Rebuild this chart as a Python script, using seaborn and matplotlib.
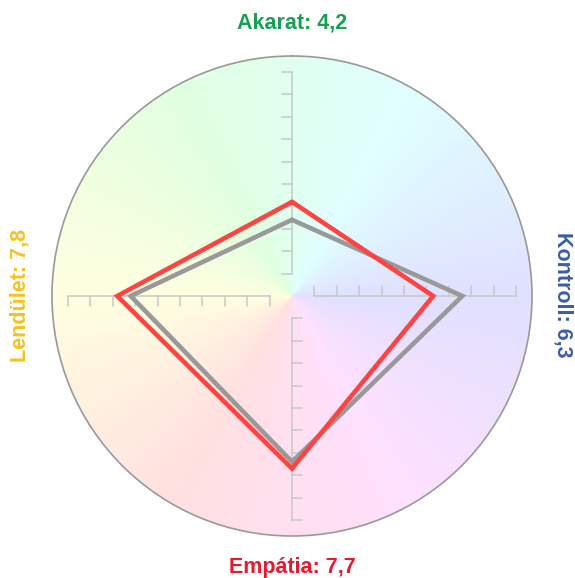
import colorsys

import numpy as np
import pandas as pd
import matplotlib
matplotlib.use("Agg")
import matplotlib.pyplot as plt
import seaborn as sns
from matplotlib.colors import ListedColormap

categories = ["Akarat", "Kontroll", "Empátia", "Lendület"]
current = [4.2, 6.3, 7.7, 7.8]
previous = [3.4, 7.6, 7.4, 7.2]
label_colors = ["#17a052", "#3b5ca8", "#e8192c", "#f8c21c"]
axis_ticks = list(range(1, 11))
r_max = 10.71

sns.set_theme(style="white")
plt.rcParams["font.family"] = ["Liberation Sans", "DejaVu Sans"]

n = len(categories)
theta = np.linspace(0, 2 * np.pi, n, endpoint=False)

fig = plt.figure(figsize=(5.75, 5.78), dpi=100)
ax = fig.add_axes([52 / 575, 42 / 578, 480 / 575, 480 / 578], projection="polar")
ax.set_theta_zero_location("N")
ax.set_theta_direction(-1)

# pastel colour wheel in the background
hues = np.arange(360)
wheel = ListedColormap([colorsys.hsv_to_rgb(((150 + h) % 360) / 360, 0.12, 1.0) for h in hues])
ax.pcolormesh(np.radians(np.arange(361)), np.array([0, r_max]), hues.reshape(1, -1),
              cmap=wheel, shading="flat", antialiased=False, linewidth=0)

# axis lines with ticks (ticks sit on the counter-clockwise side)
tick_len = 0.45
for t in theta:
    ax.plot([t, t], [axis_ticks[0], axis_ticks[-1]], color="#c8c8c8", lw=1.1)
    for j in axis_ticks:
        ax.plot([t, t - np.arctan(tick_len / j)], [j, np.hypot(j, tick_len)],
                color="#c8c8c8", lw=1.1)

df = pd.DataFrame({
    "theta": np.tile(np.append(theta, 2 * np.pi), 2),
    "value": previous + previous[:1] + current + current[:1],
    "series": ["previous"] * (n + 1) + ["current"] * (n + 1),
})
sns.lineplot(data=df, x="theta", y="value", hue="series",
             palette={"previous": "#999999", "current": "#ff4343"},
             sort=False, estimator=None, linewidth=3.3, legend=False, ax=ax,
             solid_joinstyle="miter")

ax.set_ylim(0, r_max)
ax.grid(False)
ax.set_xticks([])
ax.set_yticks([])
ax.set_xlabel("")
ax.set_ylabel("")
ax.spines["polar"].set_color("#999999")
ax.spines["polar"].set_linewidth(1.2)

# category labels around the chart
label_pos = [(292, 23, 0), (563, 295, -90), (292, 567, 0), (20, 295, 90)]
for name, val, col, (px, py, rot) in zip(categories, current, label_colors, label_pos):
    fig.text(px / 575, 1 - py / 578, f"{name}: {val:.1f}".replace(".", ","),
             color=col, fontsize=15.5, fontweight="bold", rotation=rot,
             ha="center", va="center")

fig.savefig("out.png", dpi=100)
